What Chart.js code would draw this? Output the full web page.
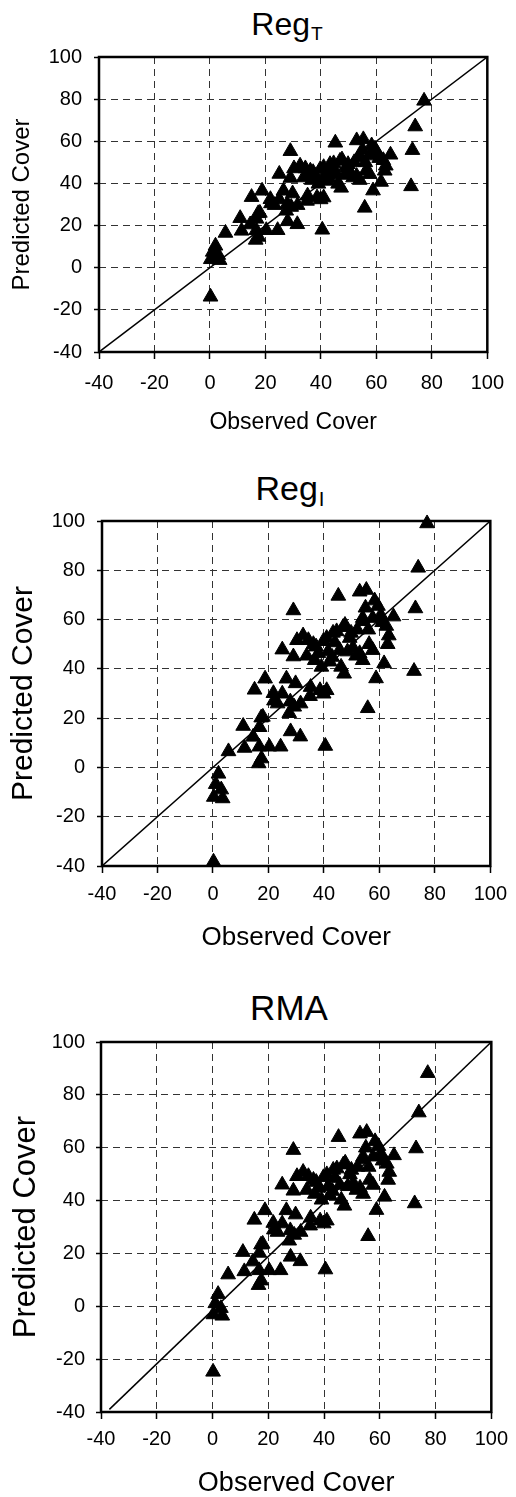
<!DOCTYPE html>
<html>
<head>
<meta charset="utf-8">
<script src="https://cdn.jsdelivr.net/npm/chart.js@4.4.1/dist/chart.umd.min.js"></script>
<style>
    html, body { margin: 0; padding: 0; background: #fff; overflow: hidden; }
    #page { position: relative; width: 516px; height: 1497px; font-family: "Liberation Sans", Arial, sans-serif; }
    canvas { position: absolute; left: 0; }
    .title { position: absolute; color: #000; white-space: nowrap; line-height: 1; transform: translateX(-50%); }
    .title sub { font-size: 0.6em; vertical-align: baseline; position: relative; top: 0.28em; margin-left: 1px; }
</style>
</head>
<body>
<div id="page">
    <div class="title" style="left:287px; top:8px; font-size:32px">Reg<sub>T</sub></div>
    <canvas id="chartRegT" width="516" height="455" style="top:0px"></canvas>

    <div class="title" style="left:290px; top:471px; font-size:34px">Reg<sub>I</sub></div>
    <canvas id="chartRegI" width="516" height="500" style="top:460px"></canvas>

    <div class="title" style="left:289px; top:990px; font-size:35px">RMA</div>
    <canvas id="chartRMA" width="516" height="535" style="top:962px"></canvas>
</div>

<script>
// Observed cover, shared by all three panels (one entry per plot)
const observed = [
    0.2, 0.3, 3.5, 3.0, 2.0, 1.0, 5.6, 10.9, 11.4, 14.5,
    15.0, 16.7, 16.5, 17.5, 16.8, 17.4, 18.0, 18.8, 20.3, 21.8,
    23.3, 24.4, 25.0, 25.0, 28.0, 27.5, 29.0, 29.0, 29.3, 29.8,
    30.3, 31.5, 31.6, 32.5, 33.8, 34.4, 35.2, 35.0, 36.2, 36.7,
    37.2, 38.6, 39.1, 39.8, 39.9, 40.5, 41.0, 41.0, 42.1, 43.3,
    44.6, 45.2, 45.7, 46.2, 46.9, 47.3, 47.6, 48.5, 49.3, 49.8,
    51.6, 52.9, 52.9, 54.0, 54.0, 54.0, 55.3, 55.8, 56.3, 57.6,
    57.6, 58.3, 58.8, 61.7, 63.4, 62.5, 63.0, 65.1, 72.5, 73.0,
    74.0, 77.2, 44.0, 50.5, 52.0, 55.0, 56.0, 59.5, 60.5, 61.0,
    38.0, 43.0, 26.5, 22.0, 27.9, 41.5
];

// Predicted cover, Reg_T panel
const predRegT = [
    -13.8, 4.0, 3.6, 6.0, 10.4, 7.5, 16.5, 23.5, 17.5, 20.5,
    33.5, 17.8, 13.2, 14.6, 23.2, 25.8, 26.0, 36.5, 17.8, 32.5,
    29.7, 17.8, 32.4, 44.5, 22.0, 27.0, 55.3, 42.6, 28.8, 35.2,
    47.1, 20.6, 29.7, 48.4, 42.8, 47.1, 34.2, 31.7, 46.0, 41.6,
    45.3, 33.3, 39.8, 46.8, 32.4, 18.0, 33.3, 47.7, 41.2, 49.1,
    49.5, 59.3, 44.4, 39.8, 50.7, 37.9, 51.3, 44.0, 47.7, 49.1,
    42.8, 43.5, 60.4, 52.3, 41.6, 53.2, 60.9, 28.4, 46.0, 53.2,
    44.4, 58.0, 36.6, 40.7, 48.4, 51.0, 46.0, 53.6, 38.6, 55.8,
    67.0, 79.2, 46.5, 45.0, 50.0, 56.0, 50.0, 56.5, 54.0, 52.0,
    43.5, 42.5, 36.5, 30.5, 30.2, 44.0
];

// Predicted cover, Reg_I panel
const predRegI = [
    -38.3, -12.0, -12.6, -9.0, -2.6, -6.8, 6.5, 16.8, 7.9, 12.4,
    31.5, 8.4, 1.6, 3.6, 16.3, 20.2, 20.5, 36.0, 8.4, 30.1,
    25.9, 8.4, 29.9, 47.8, 14.6, 22.0, 63.7, 45.0, 24.6, 34.1,
    51.6, 12.5, 25.9, 53.5, 45.3, 51.6, 32.6, 28.9, 50.0, 43.5,
    49.0, 31.3, 40.8, 51.2, 29.9, 8.7, 31.3, 52.5, 42.9, 54.6,
    55.2, 69.6, 47.6, 40.8, 56.9, 38.0, 57.8, 47.0, 52.5, 54.6,
    45.3, 46.3, 71.3, 59.3, 43.5, 60.6, 72.0, 24.0, 50.0, 60.6,
    47.6, 67.7, 36.1, 42.2, 53.5, 57.4, 50.0, 61.2, 39.1, 64.5,
    81.0, 99.0, 50.7, 48.5, 55.9, 64.8, 55.9, 65.5, 61.8, 58.9,
    46.3, 44.8, 36.0, 27.1, 26.7, 47.0
];

// Predicted cover, RMA panel
const predRMA = [
    -24.8, -3.1, -3.6, -0.7, 4.6, 1.1, 12.0, 20.5, 13.2, 16.9,
    32.7, 13.6, 8.0, 9.7, 20.2, 23.3, 23.6, 36.3, 13.6, 31.5,
    28.1, 13.6, 31.3, 46.0, 18.7, 24.8, 59.1, 43.7, 27.0, 34.7,
    49.2, 17.0, 28.1, 50.8, 44.0, 49.2, 33.5, 30.5, 47.8, 42.5,
    47.0, 32.4, 40.3, 48.8, 31.3, 13.9, 32.4, 49.9, 42.0, 51.6,
    52.1, 64.0, 45.9, 40.3, 53.6, 38.0, 54.3, 45.4, 49.9, 51.6,
    44.0, 44.8, 65.3, 55.5, 42.5, 56.6, 65.9, 26.5, 47.8, 56.6,
    45.9, 62.4, 36.4, 41.4, 50.8, 53.9, 47.8, 57.1, 38.9, 59.7,
    73.3, 88.2, 48.5, 46.6, 52.7, 60.0, 52.7, 60.6, 57.6, 55.1,
    44.8, 43.6, 36.3, 29.0, 28.7, 45.4
];

// Tick labels, same on both axes
const axisTicks = [-40, -20, 0, 20, 40, 60, 80, 100];

// 1:1 line end points
const lineObs = [-40, 100];
const linePred = [-40, 100];
const lineObsRMA = [-37, 100];
const linePredRMA = [-39, 100];

const fontFamily = '"Liberation Sans", Arial, sans-serif';

// Full black box around the plot area (Chart.js only draws left/bottom borders)
const framePlugin = {
    id: 'frame',
    beforeDatasetsDraw(chart) {
        const { ctx, chartArea: a } = chart;
        ctx.save();
        ctx.strokeStyle = '#000';
        ctx.lineWidth = 2.5;
        ctx.strokeRect(a.left, a.top, a.right - a.left, a.bottom - a.top);
        ctx.restore();
    }
};

function makeChart(canvasId, predicted, lineX, lineY, g) {
    const points = observed.map((x, i) => ({ x: x, y: predicted[i] }));
    const line = lineX.map((x, i) => ({ x: x, y: lineY[i] }));

    const setTicks = scale => { scale.ticks = axisTicks.map(v => ({ value: v })); };

    return new Chart(document.getElementById(canvasId), {
        type: 'scatter',
        data: {
            datasets: [
                {
                    data: points,
                    pointStyle: 'triangle',
                    pointRadius: 8.5,
                    pointBackgroundColor: '#000',
                    pointBorderColor: '#000',
                    pointBorderWidth: 1,
                    clip: false,
                    order: 1
                },
                {
                    data: line,
                    showLine: true,
                    borderColor: '#000',
                    borderWidth: 1.5,
                    pointRadius: 0,
                    order: 2
                }
            ]
        },
        options: {
            responsive: false,
            animation: false,
            devicePixelRatio: 1,
            layout: { padding: { top: g.top, right: g.right, left: 0, bottom: 0 } },
            plugins: { legend: { display: false }, tooltip: { enabled: false } },
            scales: {
                x: {
                    type: 'linear',
                    min: -40,
                    max: 100,
                    afterBuildTicks: setTicks,
                    afterFit: scale => { scale.height = g.xHeight; },
                    grid: { color: '#333', lineWidth: 1, tickColor: '#000', tickWidth: 1.5, tickLength: 7 },
                    border: { display: false, dash: [7, 5] },
                    ticks: { color: '#000', autoSkip: false, maxRotation: 0, padding: g.xTickPad, font: { family: fontFamily, size: g.tick } },
                    title: {
                        display: true,
                        text: 'Observed Cover',
                        color: '#000',
                        font: { family: fontFamily, size: g.xTitle, lineHeight: 1 },
                        padding: { top: 0, bottom: g.xTitlePad }
                    }
                },
                y: {
                    type: 'linear',
                    min: -40,
                    max: 100,
                    afterBuildTicks: setTicks,
                    afterFit: scale => { scale.width = g.yWidth; },
                    grid: { color: '#333', lineWidth: 1, tickColor: '#000', tickWidth: 1.5, tickLength: 5 },
                    border: { display: false, dash: [7, 5] },
                    ticks: { color: '#000', autoSkip: false, padding: g.yTickPad, font: { family: fontFamily, size: g.tick } },
                    title: {
                        display: true,
                        text: 'Predicted Cover',
                        color: '#000',
                        font: { family: fontFamily, size: g.yTitle, lineHeight: 1 },
                        padding: { top: g.yTitlePad, bottom: 0 }
                    }
                }
            }
        },
        plugins: [framePlugin]
    });
}

document.addEventListener('DOMContentLoaded', () => {
    makeChart('chartRegT', predRegT, lineObs, linePred, {
        top: 57, right: 23, xHeight: 103, yWidth: 99,
        tick: 20, xTickPad: 12, yTickPad: 12,
        xTitle: 23, xTitlePad: 21, yTitle: 24, yTitlePad: 10
    });

    makeChart('chartRegI', predRegI, lineObs, linePred, {
        top: 61, right: 20, xHeight: 94, yWidth: 102,
        tick: 20, xTickPad: 9, yTickPad: 12,
        xTitle: 26, xTitlePad: 9, yTitle: 30, yTitlePad: 9
    });

    makeChart('chartRMA', predRMA, lineObsRMA, linePredRMA, {
        top: 80, right: 20, xHeight: 85, yWidth: 101,
        tick: 20, xTickPad: 8, yTickPad: 11,
        xTitle: 27, xTitlePad: 0, yTitle: 31, yTitlePad: 11
    });
});
</script>
</body>
</html>
